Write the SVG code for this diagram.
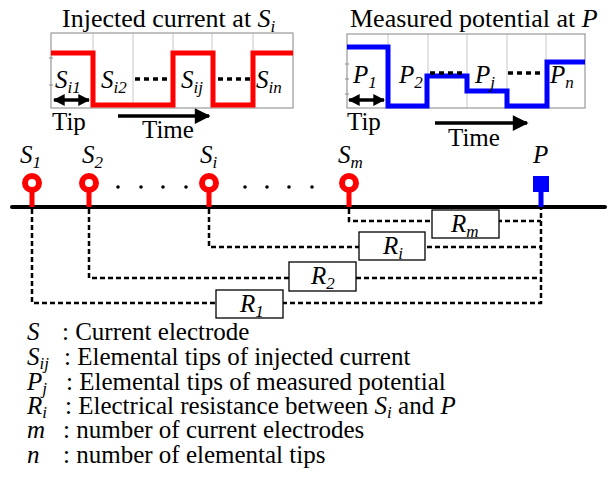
<svg xmlns="http://www.w3.org/2000/svg" width="609" height="477" viewBox="0 0 609 477" font-family="'Liberation Serif', 'Times New Roman', 'DejaVu Serif', serif">
<style>
text, tspan{font-family:'Liberation Serif','Times New Roman','DejaVu Serif',serif;fill:#000}
.t{font-size:26px}
.l{font-size:25px}
.it{font-style:italic}
.sub{font-size:17px;font-style:italic}
.grid{stroke:#c8c8c8;stroke-width:1}
.frame{fill:none;stroke:#999;stroke-width:1.2}
.dash{fill:none;stroke:#000;stroke-width:2.5;stroke-dasharray:5 3}
.dots{fill:none;stroke:#000;stroke-width:3.5;stroke-dasharray:5 4}
.rbox{fill:#fff;stroke:#000;stroke-width:1.3}
.arr{stroke:#000;stroke-width:3.5;fill:none}
</style>
<defs>
<marker id="ah" viewBox="0 0 10 10" refX="9" refY="5" markerWidth="5" markerHeight="4.5" orient="auto-start-reverse" markerUnits="strokeWidth"><path d="M0,0 L10,5 L0,10 z" fill="#000"/></marker>
<marker id="ahs" viewBox="0 0 10 10" refX="9" refY="5" markerWidth="3.4" markerHeight="4" orient="auto-start-reverse" markerUnits="strokeWidth"><path d="M0,0 L10,5 L0,10 z" fill="#000"/></marker>
</defs>

<!-- Left chart: injected current -->
<g id="chart-current">
<text class="t" x="62" y="27">Injected current at <tspan class="it">S</tspan><tspan class="sub" dy="5">i</tspan></text>
<line class="grid" x1="93" y1="33" x2="93" y2="108"/>
<line class="grid" x1="133" y1="33" x2="133" y2="108"/>
<line class="grid" x1="173" y1="33" x2="173" y2="108"/>
<line class="grid" x1="212" y1="33" x2="212" y2="108"/>
<line class="grid" x1="253" y1="33" x2="253" y2="108"/>
<rect class="frame" x="51" y="33" width="242" height="75"/>
<line class="frame" x1="49" y1="58" x2="53" y2="58"/>
<line class="frame" x1="49" y1="85" x2="53" y2="85"/>
<polyline points="51,53 93,53 93,105 173,105 173,53 213,53 213,105 253,105 253,53 293,53" fill="none" stroke="#ff0000" stroke-width="5"/>
<text class="l it" x="55" y="88">S<tspan class="sub" dy="5">i1</tspan></text>
<text class="l it" x="101" y="88">S<tspan class="sub" dy="5">i2</tspan></text>
<text class="l it" x="181" y="88">S<tspan class="sub" dy="5">ij</tspan></text>
<text class="l it" x="256" y="88">S<tspan class="sub" dy="5">in</tspan></text>
<line class="dots" x1="135" y1="79" x2="169" y2="79"/>
<line class="dots" x1="218" y1="79" x2="252" y2="79"/>
<line class="arr" x1="54" y1="100" x2="89" y2="100" marker-start="url(#ahs)" marker-end="url(#ahs)"/>
<text class="l" x="52" y="130">Tip</text>
<line class="arr" x1="118" y1="116" x2="209" y2="116" marker-end="url(#ah)"/>
<text class="l" x="142" y="138">Time</text>
</g>

<!-- Right chart: measured potential -->
<g id="chart-potential">
<text class="t" x="350" y="27">Measured potential at <tspan class="it">P</tspan></text>
<line class="grid" x1="388" y1="34" x2="388" y2="108"/>
<line class="grid" x1="428" y1="34" x2="428" y2="108"/>
<line class="grid" x1="467" y1="34" x2="467" y2="108"/>
<line class="grid" x1="507" y1="34" x2="507" y2="108"/>
<line class="grid" x1="546" y1="34" x2="546" y2="108"/>
<rect class="frame" x="347" y="34" width="238" height="74"/>
<line class="frame" x1="345" y1="64" x2="349" y2="64"/>
<line class="frame" x1="345" y1="79" x2="349" y2="79"/>
<line class="frame" x1="345" y1="94" x2="349" y2="94"/>
<polyline points="347,47 388,47 388,106 427,106 427,76 467,76 467,91 507,91 507,106 547,106 547,62 585,62" fill="none" stroke="#0000ff" stroke-width="5"/>
<text class="l it" x="353" y="83">P<tspan class="sub" dy="5">1</tspan></text>
<text class="l it" x="399" y="83">P<tspan class="sub" dy="5">2</tspan></text>
<text class="l it" x="475" y="83">P<tspan class="sub" dy="5">j</tspan></text>
<text class="l it" x="550" y="83">P<tspan class="sub" dy="5">n</tspan></text>
<line class="dots" x1="430" y1="73" x2="464" y2="73"/>
<line class="dots" x1="508" y1="73" x2="542" y2="73"/>
<line class="arr" x1="349" y1="100" x2="384" y2="100" marker-start="url(#ahs)" marker-end="url(#ahs)"/>
<text class="l" x="347" y="130">Tip</text>
<line class="arr" x1="435" y1="123" x2="527" y2="123" marker-end="url(#ah)"/>
<text class="l" x="448" y="146">Time</text>
</g>

<!-- Connectors -->
<g id="connectors">
<polyline class="dash" points="32,209 32,303 541,303 541,209"/>
<polyline class="dash" points="89,209 89,278 541,278"/>
<polyline class="dash" points="209,209 209,247 541,247"/>
<polyline class="dash" points="349,209 349,221 541,221"/>
</g>

<!-- Ground line -->
<g id="ground">
<line x1="12" y1="207" x2="605" y2="207" stroke="#000" stroke-width="4" stroke-linecap="round"/>
</g>

<!-- Resistances -->
<g id="R1"><rect class="rbox" x="216" y="290" width="67" height="28"/><text class="l it" x="240" y="312">R<tspan class="sub" dy="5">1</tspan></text></g>
<g id="R2"><rect class="rbox" x="289" y="262" width="67" height="29"/><text class="l it" x="311" y="284">R<tspan class="sub" dy="5">2</tspan></text></g>
<g id="Ri"><rect class="rbox" x="359" y="232" width="66" height="28"/><text class="l it" x="383" y="254">R<tspan class="sub" dy="5">i</tspan></text></g>
<g id="Rm"><rect class="rbox" x="432" y="210" width="67" height="28"/><text class="l it" x="451" y="232">R<tspan class="sub" dy="5">m</tspan></text></g>

<!-- Electrodes -->
<g id="S1"><text class="l it" x="20" y="163">S<tspan class="sub" dy="5">1</tspan></text><rect x="29.5" y="190" width="5" height="17" fill="#ff0000"/><circle cx="32" cy="183" r="7" fill="#fff" stroke="#ff0000" stroke-width="6"/></g>
<g id="S2"><text class="l it" x="82" y="163">S<tspan class="sub" dy="5">2</tspan></text><rect x="86.5" y="190" width="5" height="17" fill="#ff0000"/><circle cx="89" cy="183" r="7" fill="#fff" stroke="#ff0000" stroke-width="6"/></g>
<g id="Si"><text class="l it" x="200" y="163">S<tspan class="sub" dy="5">i</tspan></text><rect x="206.5" y="190" width="5" height="17" fill="#ff0000"/><circle cx="209" cy="183" r="7" fill="#fff" stroke="#ff0000" stroke-width="6"/></g>
<g id="Sm"><text class="l it" x="338" y="163">S<tspan class="sub" dy="5">m</tspan></text><rect x="346.5" y="190" width="5" height="17" fill="#ff0000"/><circle cx="349" cy="183" r="7" fill="#fff" stroke="#ff0000" stroke-width="6"/></g>
<g id="P"><text class="l it" x="533" y="163">P</text><rect x="538.5" y="190" width="5" height="17" fill="#0000ff"/><rect x="533" y="176" width="16" height="16" fill="#0000ff"/></g>
<g id="ellipsis">
<circle cx="118" cy="187" r="1.8"/><circle cx="141" cy="187" r="1.8"/><circle cx="163" cy="187" r="1.8"/><circle cx="186" cy="187" r="1.8"/>
<circle cx="245" cy="187" r="1.8"/><circle cx="267" cy="187" r="1.8"/><circle cx="289" cy="187" r="1.8"/><circle cx="312" cy="187" r="1.8"/>
</g>

<!-- Legend -->
<g id="legend">
<text class="l it" x="27" y="340">S</text><text class="l" x="62" y="340">: Current electrode</text>
<text class="l it" x="27" y="365">S<tspan class="sub" dy="4">ij</tspan></text><text class="l" x="64" y="365">: Elemental tips of injected current</text>
<text class="l it" x="27" y="390">P<tspan class="sub" dy="4">j</tspan></text><text class="l" x="66" y="390">: Elemental tips of measured potential</text>
<text class="l it" x="27" y="414">R<tspan class="sub" dy="4">i</tspan></text><text class="l" x="65" y="414">: Electrical resistance between <tspan class="it">S</tspan><tspan class="sub" dy="4">i</tspan><tspan dy="-4"> and </tspan><tspan class="it">P</tspan></text>
<text class="l it" x="27" y="438">m</text><text class="l" x="63" y="438">: number of current electrodes</text>
<text class="l it" x="27" y="463">n</text><text class="l" x="63" y="463">: number of elemental tips</text>
</g>
</svg>
